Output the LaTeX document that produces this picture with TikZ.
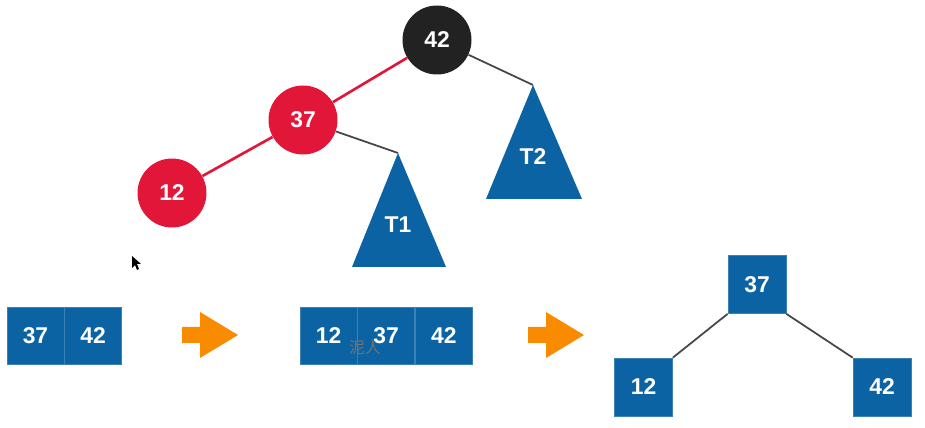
\documentclass[tikz,border=0pt]{standalone}
\usepackage{fontspec}
\setmainfont{Liberation Sans}
\newfontfamily\cjkfont{Noto Sans CJK SC}
\usetikzlibrary{positioning}

\definecolor{treeblue}{RGB}{11,99,163}
\definecolor{treered}{RGB}{226,22,56}
\definecolor{treeblack}{RGB}{34,34,34}
\definecolor{arroworange}{RGB}{249,139,0}
\definecolor{edgegray}{RGB}{70,70,70}

\begin{document}
\begin{tikzpicture}[x=0.02cm, y=-0.02cm,
    every node/.style={font=\fontsize{13}{15}\selectfont\bfseries, text=white},
    rbnode/.style={circle, minimum size=1.38cm, inner sep=0pt},
    cell/.style={rectangle, fill=treeblue, draw=treeblue!80!white, line width=0.4pt,
                 minimum width=1.14cm, minimum height=1.14cm, inner sep=0pt},
    square/.style={cell, minimum width=1.16cm, minimum height=1.16cm},
    subtree/.style={fill=treeblue},
    rededge/.style={treered, line width=1.5pt},
    grayedge/.style={edgegray, line width=1pt}
]
    \useasboundingbox (0,0) rectangle (925,428);

    % red-black tree
    \node (n42) [rbnode, fill=treeblack] at (437,40) {42};
    \node (n37) [rbnode, fill=treered] at (303,120) {37};
    \node (n12) [rbnode, fill=treered] at (172,193) {12};

    \coordinate (t1top) at (398,153);
    \coordinate (t2top) at (533,85);

    \draw [rededge] (n42) -- (n37);
    \draw [rededge] (n37) -- (n12);
    \draw [grayedge] (n37) -- (t1top);
    \draw [grayedge] (n42) -- (t2top);

    \fill [subtree] (t1top) -- (446,267) -- (352,267) -- cycle;
    \fill [subtree] (t2top) -- (582,199) -- (486,199) -- cycle;
    \node (T1) at (398,225) {T1};
    \node (T2) at (533,157) {T2};

    % mouse pointer
    \fill [black] (132,256) -- (132,268) -- (135,265) -- (137,270) -- (139,269)
        -- (137,264) -- (141,264) -- cycle;

    % 2-node, 3-node and split
    \node (a37) [cell] at (35.5,335.5) {37};
    \node (a42) [cell, right=0pt of a37] {42};

    \node (b12) [cell] at (328.5,335.5) {12};
    \node (b37) [cell, right=0pt of b12] {37};
    \node (b42) [cell, right=0pt of b37] {42};
    \node (mark) [font=\cjkfont\fontsize{9}{10}\selectfont, text=black!55] at (365,348) {泥人};

    \foreach \dx in {0,346}
        \fill [arroworange] (182+\dx,327) -- (200+\dx,327) -- (200+\dx,312)
            -- (238+\dx,335) -- (200+\dx,358) -- (200+\dx,343) -- (182+\dx,343) -- cycle;

    \node (s37) [square] at (757,284.5) {37};
    \node (s12) [square] at (643.5,387) {12};
    \node (s42) [square] at (882,387) {42};

    \draw [grayedge] (s37.south west) -- (s12.north east);
    \draw [grayedge] (s37.south east) -- (s42.north west);
\end{tikzpicture}
\end{document}
